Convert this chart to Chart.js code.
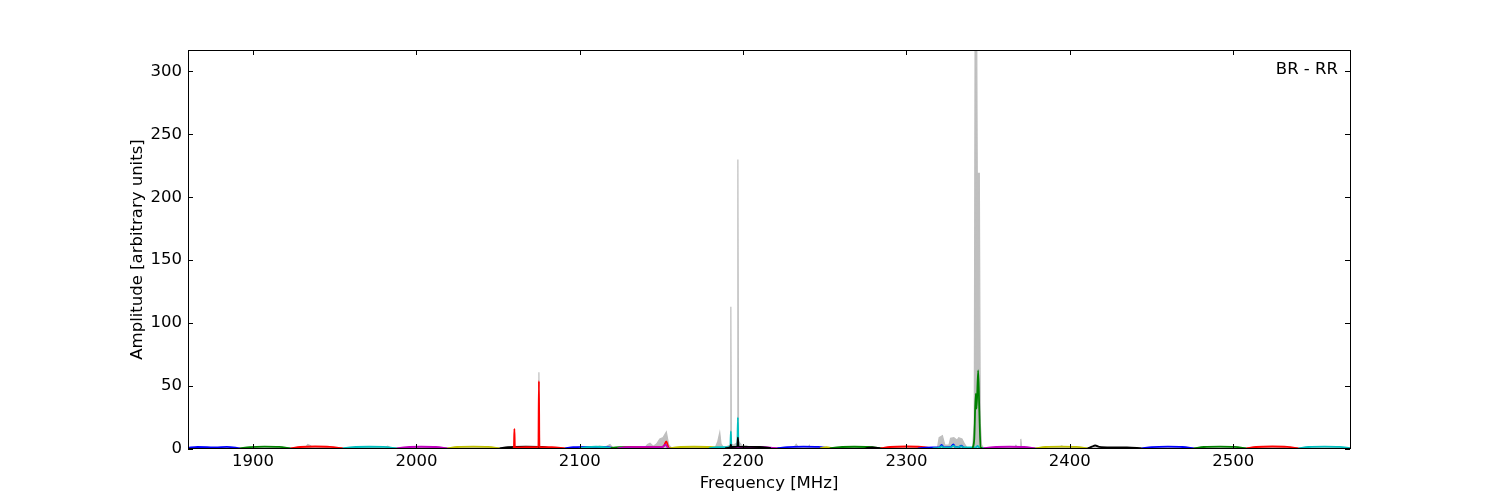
<!DOCTYPE html>
<html>
<head>
<meta charset="utf-8">
<title>BR - RR</title>
<script src="https://cdn.jsdelivr.net/npm/chart.js@4.4.1/dist/chart.umd.min.js"></script>
<style>
  html, body { margin: 0; padding: 0; background: #fff; }
  #wrap { width: 1500px; height: 500px; }
</style>
</head>
<body>
<div id="wrap"><canvas id="chart" width="1500" height="500"></canvas></div>
<script>
// axis ranges / ticks
const freqMin = 1860.2;
const freqMax = 2571.5;
const ampMax = 317;
const freqStep = 100;
const ampStep = 50;
const panelLabel = 'BR - RR';

// per-subband spectra, [frequency MHz, amplitude]
const sb01 = [[1860, 0.9], [1866, 1.6], [1872, 1.5], [1877, 1.2], [1884, 1.7], [1892, 0.5]];
const sb02 = [[1892, 0.5], [1898, 1.5], [1907, 1.9], [1916, 1.7], [1923, 0.5]];
const sb03 = [[1923, 0.5], [1929, 1.6], [1938, 2.0], [1947, 1.7], [1955, 0.5]];
const sb04 = [[1955, 0.5], [1961, 1.5], [1971, 1.8], [1980, 1.7], [1988, 0.5]];
const sb05 = [[1988, 0.5], [1994, 1.5], [2003, 1.8], [2012, 1.6], [2019, 0.5]];
const sb06 = [[2019, 0.5], [2025, 1.6], [2035, 1.9], [2044, 1.7], [2051, 0.5]];
const sb07 = [[2051, 0.5], [2056, 1.4], [2067, 1.8], [2077, 1.6], [2083, 0.5]];
const sb08 = [[2059, 0.6], [2059.7, 1.2], [2060, 16], [2060.3, 1.2], [2067, 1.4], [2074.7, 1.4], [2075, 54], [2075.3, 1.4], [2083, 1.4], [2091, 0.5]];
const sb09 = [[2091, 0.5], [2096, 1.4], [2105, 1.7], [2115, 1.6], [2123, 0.5]];
const sb10 = [[2117, 0.5], [2122, 1.3], [2133, 1.6], [2149, 0.5]];
const sb11 = [[2100, 0.6], [2104, 1.5], [2110, 1.8], [2116, 1.4], [2119, 0.6]];
const sb12 = [[2124, 0.5], [2130, 1.4], [2140, 1.6], [2150, 1.4], [2151.5, 2.5], [2153, 6], [2154.3, 1.4], [2156, 0.5]];
const sb13 = [[2123, 0.5], [2129, 1.4], [2139, 1.7], [2148, 1.5], [2150.5, 1.4], [2152.5, 3.5], [2154, 0.8], [2155, 0.5]];
const sb14 = [[2155, 0.5], [2160, 1.5], [2170, 1.8], [2180, 1.6], [2187, 0.5]];
const sb15 = [[2179, 0.5], [2184, 1.4], [2192.2, 1.6], [2192.5, 14], [2192.8, 1.6], [2196.5, 1.7], [2196.8, 25], [2197.1, 1.7], [2204, 1.5], [2211, 0.5]];
const sb16 = [[2190, 0.5], [2198, 1.4], [2210, 1.6], [2222, 0.5]];
const sb17 = [[2189, 0.6], [2192.2, 1.6], [2192.5, 3.5], [2192.8, 1.6], [2196.5, 1.9], [2196.8, 9], [2197.2, 1.9], [2204, 1.7], [2210, 1.6], [2217, 0.6]];
const sb18 = [[2221, 0.5], [2227, 1.5], [2237, 1.9], [2246, 1.7], [2253, 0.5]];
const sb19 = [[2247, 0.6], [2251, 1.4], [2255, 0.6]];
const sb20 = [[2253, 0.5], [2259, 1.5], [2268, 1.8], [2277, 1.6], [2285, 0.5]];
const sb21 = [[2275, 0.6], [2279, 1.3], [2284, 0.5]];
const sb22 = [[2284, 0.5], [2290, 1.6], [2300, 2.0], [2309, 1.7], [2316, 0.5]];
const sb23 = [[2307, 0.5], [2312, 1.0], [2316, 1.2], [2320, 1.3], [2321.5, 3.2], [2323, 1.3], [2327, 1.4], [2328.7, 3.6], [2330, 1.4], [2332, 1.4], [2333.5, 2.6], [2335, 1.2], [2339, 0.5]];
const sb24 = [[2316, 0.5], [2320, 1.2], [2321.5, 2.2], [2323, 1.1], [2327, 1.2], [2328.7, 2.6], [2330.5, 1.2], [2333.5, 2.2], [2335, 1.2], [2342.5, 1.2], [2343.5, 2.4], [2344.5, 1.2], [2348, 0.5]];
const sb25 = [[2340.5, 0.8], [2341.5, 8], [2342.4, 44], [2342.9, 32], [2343.9, 62.5], [2344.6, 30], [2345.4, 1.3], [2346.5, 0.8]];
const sb26 = [[2347, 0.5], [2353, 1.5], [2363, 1.8], [2372, 1.6], [2379, 0.5]];
const sb27 = [[2379, 0.5], [2385, 1.6], [2395, 1.9], [2404, 1.7], [2411, 0.5]];
const sb28 = [[2411, 0.5], [2413.5, 1.9], [2415.5, 2.8], [2418, 1.7], [2425, 1.3], [2435, 1.3], [2444, 0.5]];
const sb29 = [[2444, 0.5], [2450, 1.5], [2460, 1.9], [2469, 1.6], [2476, 0.5]];
const sb30 = [[2476, 0.5], [2482, 1.6], [2492, 1.9], [2501, 1.7], [2508, 0.5]];
const sb31 = [[2508, 0.5], [2514, 1.6], [2524, 2.0], [2533, 1.7], [2540, 0.5]];
const sb32 = [[2540, 0.5], [2546, 1.6], [2556, 1.9], [2565, 1.7], [2571.5, 0.7]];

const subbands = [sb01, sb02, sb03, sb04, sb05, sb06, sb07, sb08, sb09, sb10, sb11, sb12, sb13, sb14, sb15, sb16,
  sb17, sb18, sb19, sb20, sb21, sb22, sb23, sb24, sb25, sb26, sb27, sb28, sb29, sb30, sb31, sb32];
const subbandColors = ['b', 'g', 'r', 'c', 'm', 'y', 'k', 'r', 'b', 'g', 'c', 'r', 'm', 'y', 'c', 'm',
  'k', 'b', 'y', 'g', 'k', 'r', 'b', 'c', 'g', 'm', 'y', 'k', 'b', 'g', 'r', 'c'];

// max-hold envelope (grey)
const envelope = [
  [1860, 1], [1932, 1], [1933.5, 3.6], [1935, 2.8], [1936.5, 1.2], [1981, 1.2], [1982.5, 2.2], [1984, 1.2],
  [2074.6, 1.2], [2075, 61], [2075.4, 1.2],
  [2110, 1.2], [2112, 2.2], [2116, 1.8], [2118.5, 3.5], [2120, 1.2],
  [2140, 1.2], [2141.5, 3.5], [2143, 4.5], [2145, 2.2], [2147, 4], [2149, 8], [2151, 9], [2153, 13.5], [2154.5, 3], [2156, 1.2],
  [2183, 1.2], [2184.5, 6], [2185.7, 13], [2186.5, 4], [2188, 1.2], [2190, 2], [2192.2, 3], [2192.5, 113], [2192.8, 4],
  [2194, 3], [2196.5, 5], [2196.8, 230], [2197.2, 6], [2199, 3], [2202, 2.5], [2205, 1.2],
  [2231, 1.2], [2232.5, 3.8], [2234, 1.2], [2240, 1.2], [2240.5, 2.8], [2241, 1.2],
  [2319, 1.2], [2320, 9], [2322, 10.5], [2323.5, 3], [2326, 3], [2327, 8.5], [2329, 9], [2331, 7], [2332, 9], [2334, 8], [2335.5, 4], [2337, 1.2],
  [2340.5, 1.2], [2341.5, 20], [2342, 330], [2343, 330], [2343.5, 160], [2344, 219], [2344.6, 219], [2345.2, 20], [2346, 3], [2347, 1.2],
  [2366, 1.2], [2367, 3], [2368, 1.2], [2369.5, 1.2], [2370, 8], [2370.5, 1.2],
  [2393, 1.2], [2395, 2.4], [2397, 1.2], [2571.5, 1]
];

const mplColors = { b: '#0000ff', g: '#008000', r: '#ff0000', c: '#00bfbf', m: '#bf00bf', y: '#bfbf00', k: '#000000' };
const toXY = arr => arr.map(p => ({ x: p[0], y: p[1] }));
const FONT = 'DejaVu Sans';

const datasets = subbands.map((sb, i) => ({
  data: toXY(sb),
  borderColor: mplColors[subbandColors[i]],
  borderWidth: 1.8,
  pointRadius: 0,
  cubicInterpolationMode: 'monotone',
  fill: false,
  order: -i,
}));
datasets.push({
  data: toXY(envelope),
  borderColor: '#bfbfbf',
  backgroundColor: '#bfbfbf',
  borderWidth: 1.2,
  pointRadius: 0,
  tension: 0,
  fill: 'origin',
  order: 1,
});

// matplotlib-like frame: box, inward ticks on all sides, corner label
const framePlugin = {
  id: 'frame',
  afterDraw(chart) {
    const { ctx, chartArea: a, scales: { x, y } } = chart;
    const L = 5;
    ctx.save();
    ctx.strokeStyle = '#000';
    ctx.lineWidth = 1;
    ctx.beginPath();
    x.ticks.forEach(t => {
      const px = Math.round(x.getPixelForValue(t.value)) + 0.5;
      ctx.moveTo(px, a.bottom); ctx.lineTo(px, a.bottom - L);
      ctx.moveTo(px, a.top); ctx.lineTo(px, a.top + L);
    });
    y.ticks.forEach(t => {
      const py = Math.round(y.getPixelForValue(t.value)) + 0.5;
      ctx.moveTo(a.left, py); ctx.lineTo(a.left + L, py);
      ctx.moveTo(a.right, py); ctx.lineTo(a.right - L, py);
    });
    ctx.stroke();
    ctx.strokeRect(Math.round(a.left) + 0.5, Math.round(a.top) + 0.5, Math.round(a.width), Math.round(a.height) - 1);
    ctx.fillStyle = '#000';
    ctx.font = '16.5px "' + FONT + '"';
    ctx.textAlign = 'right';
    ctx.textBaseline = 'middle';
    ctx.fillText(panelLabel, a.right - 12, a.top + 20);
    ctx.restore();
  }
};

new Chart(document.getElementById('chart'), {
  type: 'line',
  data: { datasets },
  plugins: [framePlugin],
  options: {
    responsive: false,
    animation: false,
    devicePixelRatio: 1,
    layout: { padding: { top: 50, right: 150, left: 0, bottom: 0 } },
    plugins: { legend: { display: false }, tooltip: { enabled: false } },
    scales: {
      x: {
        type: 'linear',
        min: freqMin,
        max: freqMax,
        afterFit: s => { s.height = 51; },
        grid: { display: false, drawTicks: false },
        border: { display: false },
        ticks: {
          stepSize: freqStep,
          includeBounds: false,
          maxRotation: 0,
          padding: 3,
          color: '#000',
          font: { family: FONT, size: 16.5 },
          callback: v => String(v),
        },
        title: {
          display: true,
          text: 'Frequency [MHz]',
          color: '#000',
          font: { family: FONT, size: 16.5 },
          padding: { top: 0, bottom: 6 },
        },
      },
      y: {
        min: 0,
        max: ampMax,
        afterFit: s => { s.width = 188; },
        grid: { display: false, drawTicks: false },
        border: { display: false },
        ticks: {
          stepSize: ampStep,
          includeBounds: false,
          padding: 6,
          color: '#000',
          font: { family: FONT, size: 16.5 },
        },
        title: {
          display: true,
          text: 'Amplitude [arbitrary units]',
          color: '#000',
          font: { family: FONT, size: 16.5 },
          padding: { top: 128, bottom: 0 },
        },
      },
    },
  },
});
</script>
</body>
</html>
